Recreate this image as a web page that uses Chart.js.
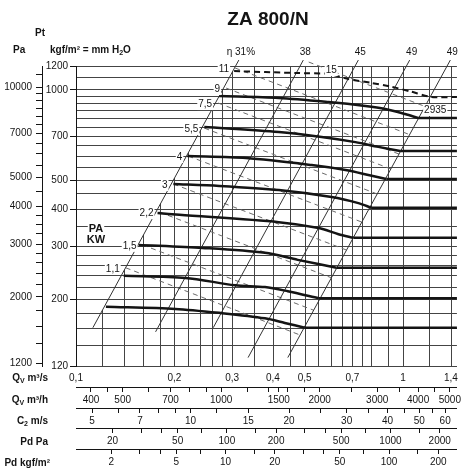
<!DOCTYPE html>
<html>
<head>
<meta charset="utf-8">
<script src="https://cdn.jsdelivr.net/npm/chart.js@4.4.1/dist/chart.umd.min.js"></script>
<style>
  html, body { margin: 0; padding: 0; background: #fff; }
</style>
</head>
<body>
<canvas id="fan" width="464" height="469"></canvas>
<script>
// grid + tick values
const qGrid = [0.1, 0.12, 0.14, 0.16, 0.18, 0.2, 0.22, 0.24, 0.26, 0.28, 0.3, 0.35, 0.4, 0.45, 0.5, 0.55, 0.6, 0.65, 0.7, 0.75, 0.8, 0.9, 1, 1.2, 1.4]
const qLabels = [0.1, 0.2, 0.3, 0.4, 0.5, 0.7, 1, 1.4]
const ptGrid = [120, 140, 160, 180, 200, 220, 240, 260, 280, 300, 350, 400, 450, 500, 550, 600, 650, 700, 750, 800, 850, 900, 950, 1000, 1100, 1200]
const ptLabels = [120, 200, 300, 400, 500, 700, 1000, 1200]
const paLabels = [1200, 2000, 3000, 4000, 5000, 7000, 10000]
const paMinor = [1400, 1600, 1800, 2200, 2400, 2600, 2800, 3250, 3500, 3750, 4500, 5500, 6000, 6500, 7500, 8000, 8500, 9000, 9500, 11000]
const m3hLabels = [400, 500, 700, 1000, 1500, 2000, 3000, 4000, 5000]
const m3hMinor = [450, 600, 800, 900, 1200, 1400, 1600, 1800, 2500, 3500, 4500]
const c2Labels = [5, 7, 10, 15, 20, 30, 40, 50, 60]
const c2Minor = [6, 8, 9, 12, 25, 35, 45, 55]
const pdLabels = [20, 50, 100, 200, 500, 1000, 2000]
const pdMinor = [30, 40, 70, 150, 300, 400, 700, 1500]
const pdkLabels = [2, 5, 10, 20, 50, 100, 200]
const pdkMinor = [3, 4, 7, 15, 30, 40, 70, 150]

// efficiency parabolas (bottom and top ends)
const effLabels = ['η 31%', '38', '45', '49', '49']
const effLowQ = [0.1126, 0.1751, 0.2627, 0.3357, 0.444]
const effLowP = [161, 156, 161, 128, 128]
const effTopQ = [0.3146, 0.4953, 0.7295, 1.047, 1.394]
const effTopP = [1256, 1256, 1256, 1256, 1256]

// motor power lines (kW), dashed
const kwLabels = ['15', '11', '9', '7,5', '5,5', '4', '3', '2,2', '1,5', '1,1']
const kwStartQ = [0.5143, 0.3064, 0.2877, 0.272, 0.2467, 0.2205, 0.1986, 0.18, 0.1598, 0.1419]
const kwStartP = [1237, 1182, 1013, 903, 745, 601, 485, 391, 304, 255]
const kwEndQ = [1.1687, 1.0488, 0.973, 0.9189, 0.8344, 0.7484, 0.6724, 0.6045, 0.5334, 0.4857]
const kwEndP = [879, 708, 610, 544, 449, 362, 292, 236, 184, 152]

// fan curves [Q m3/s, Pt kgf/m2]
const curveMax = [[0.3043, 1154], [0.4729, 1137], [0.5916, 1129], [0.6804, 1085], [0.7993, 1054], [0.9195, 1024], [1.0576, 986], [1.2163, 946]]
const curve1 = [[0.274, 953], [0.4169, 939], [0.5916, 910], [0.7663, 883], [0.8815, 863], [1.014, 830], [1.111, 805]]
const curve2 = [[0.2467, 751], [0.4169, 723], [0.5634, 696], [0.7147, 669], [0.8395, 645], [0.979, 625]]
const curve3 = [[0.219, 601], [0.3311, 592], [0.5253, 561], [0.6664, 540], [0.7829, 520], [0.8877, 504]]
const curve4 = [[0.1985, 485], [0.274, 478], [0.4169, 463], [0.6041, 439], [0.7299, 419], [0.7993, 404]]
const curve5 = [[0.1775, 388], [0.2071, 383], [0.4169, 362], [0.5516, 346], [0.6345, 330], [0.7047, 321]]
const curve6 = [[0.1554, 304], [0.2432, 297], [0.378, 286], [0.4762, 271], [0.6256, 255]]
const curve7 = [[0.1399, 240], [0.216, 236], [0.3064, 223], [0.378, 220], [0.444, 213], [0.5516, 202]]
const curve8 = [[0.1234, 189], [0.2014, 186], [0.2797, 180], [0.378, 173], [0.4348, 167], [0.5002, 161]]
const rpmLabel = '2935'

const Q_MIN = 0.1, Q_MAX = 1.46
const AREA = 0.0224, RHO = 1.2, G = 9.81

const INK = '#141414'
const GRID = '#444'
const FONT = '"Liberation Sans", Arial, sans-serif'
Chart.defaults.font.family = FONT
Chart.defaults.color = INK

const fmt = v => String(v).replace('.', ',')
const pts = arr => arr.map(([x, y]) => ({ x, y }))

function line(data, style) {
  return { data, pointRadius: 0, fill: false, clip: false, xAxisID: 'x', yAxisID: 'y', ...style }
}

const curves = [curve1, curve2, curve3, curve4, curve5, curve6, curve7, curve8]
const datasets = []
curves.forEach(c => {
  const last = c[c.length - 1]
  datasets.push(line(pts(c), { borderColor: INK, borderWidth: 2.5, tension: 0.3 }))
  datasets.push(line([{ x: last[0], y: last[1] }, { x: Q_MAX, y: last[1] }], { borderColor: INK, borderWidth: 2.5 }))
})
const maxLast = curveMax[curveMax.length - 1]
datasets.push(line(pts([...curveMax, [Q_MAX, maxLast[1]]]), { borderColor: INK, borderWidth: 2, borderDash: [6, 4], tension: 0.2 }))
effLabels.forEach((_, i) => {
  datasets.push(line([{ x: effLowQ[i], y: effLowP[i] }, { x: effTopQ[i], y: effTopP[i] }], { borderColor: '#333', borderWidth: 1 }))
})
kwLabels.forEach((_, i) => {
  datasets.push(line([{ x: kwStartQ[i], y: kwStartP[i] }, { x: kwEndQ[i], y: kwEndP[i] }], { borderColor: '#6a6a6a', borderWidth: 1, borderDash: [5, 4] }))
})

function bottomAxis(weight, conv, major, minor, height) {
  const all = [...major, ...minor].sort((a, b) => a - b)
  return {
    type: 'logarithmic', position: 'bottom', weight,
    min: conv(Q_MIN), max: conv(Q_MAX),
    afterBuildTicks: s => { s.ticks = all.map(v => ({ value: v })) },
    afterFit: s => { s.height = height },
    border: { display: true, color: INK, width: 1 },
    grid: { drawOnChartArea: false, tickLength: 5, tickColor: INK, tickWidth: 1 },
    ticks: { autoSkip: false, maxRotation: 0, padding: 2, color: INK, font: { size: 10 }, callback: v => major.includes(v) ? fmt(v) : '' },
  }
}

function drawRich(ctx, parts, x, y, align) {
  const big = 'bold 10px ' + FONT, small = 'bold 7px ' + FONT
  let w = 0
  parts.forEach(p => { ctx.font = p.sub ? small : big; w += ctx.measureText(p.t).width })
  let cx = align === 'right' ? x - w : x
  ctx.textAlign = 'left'
  ctx.textBaseline = 'middle'
  parts.forEach(p => {
    ctx.font = p.sub ? small : big
    ctx.fillText(p.t, cx, p.sub ? y + 3 : y)
    cx += ctx.measureText(p.t).width
  })
}

function boxText(ctx, text, x, y, align, font) {
  ctx.font = font
  const w = ctx.measureText(text).width
  const left = align === 'right' ? x - w : align === 'center' ? x - w / 2 : x
  ctx.fillStyle = '#fff'
  ctx.fillRect(left - 1, y - 6, w + 2, 12)
  ctx.fillStyle = INK
  ctx.textAlign = align
  ctx.textBaseline = 'middle'
  ctx.fillText(text, x, y)
}

const decor = {
  id: 'decor',
  beforeDatasetsDraw(chart) {
    // vertical grid only below the 31% line
    const { ctx, chartArea: a, scales: { x, y } } = chart
    const x0 = x.getPixelForValue(effLowQ[0]), y0 = y.getPixelForValue(effLowP[0])
    const x1 = x.getPixelForValue(effTopQ[0]), y1 = y.getPixelForValue(effTopP[0])
    ctx.save()
    ctx.strokeStyle = GRID
    ctx.lineWidth = 1
    ctx.beginPath()
    qGrid.slice(1).forEach(q => {
      const px = Math.round(x.getPixelForValue(q)) + 0.5
      const top = Math.max(a.top, y0 + (px - x0) * (y1 - y0) / (x1 - x0))
      ctx.moveTo(px, a.bottom)
      ctx.lineTo(px, top)
    })
    ctx.stroke()
    ctx.restore()
  },
  afterDatasetsDraw(chart) {
    const { ctx, chartArea: a, scales: { x, y } } = chart
    ctx.save()
    const f = '10px ' + FONT
    kwLabels.forEach((t, i) => {
      const px = x.getPixelForValue(kwStartQ[i]), py = y.getPixelForValue(kwStartP[i])
      if (t === '15') boxText(ctx, t, px + 17, py + 8, 'left', f)
      else boxText(ctx, t, px - 6, py + 1, 'right', f)
    })
    const c1 = curve1[curve1.length - 1]
    boxText(ctx, rpmLabel, x.getPixelForValue(c1[0]) + 6, y.getPixelForValue(c1[1]) - 8, 'left', f)
    effLabels.forEach((t, i) => {
      ctx.font = f
      ctx.fillStyle = INK
      ctx.textAlign = 'center'
      ctx.textBaseline = 'middle'
      ctx.fillText(t, x.getPixelForValue(effTopQ[i]) + 2, a.top - 14)
    })
    const pa = y.getPixelForValue(350)
    boxText(ctx, 'PA', a.left + 20, pa + 2, 'center', 'bold 11px ' + FONT)
    boxText(ctx, 'KW', a.left + 20, pa + 13, 'center', 'bold 11px ' + FONT)
    ctx.restore()
  },
  afterDraw(chart) {
    const { ctx, scales } = chart
    ctx.save()
    ctx.fillStyle = INK
    ctx.font = 'bold 19px ' + FONT
    ctx.textAlign = 'center'
    ctx.textBaseline = 'middle'
    ctx.fillText('ZA 800/N', 268, 20)
    drawRich(ctx, [{ t: 'Pt' }], 35, 33, 'left')
    drawRich(ctx, [{ t: 'Pa' }], 13, 50, 'left')
    drawRich(ctx, [{ t: 'kgf/m² = mm H' }, { t: '2', sub: true }, { t: 'O' }], 50, 50, 'left')
    drawRich(ctx, [{ t: 'Q' }, { t: 'V', sub: true }, { t: ' m³/s' }], 48, scales.x.top + 12, 'right')
    drawRich(ctx, [{ t: 'Q' }, { t: 'V', sub: true }, { t: ' m³/h' }], 48, scales.xh.top + 13, 'right')
    drawRich(ctx, [{ t: 'C' }, { t: '2', sub: true }, { t: ' m/s' }], 48, scales.xc.top + 13, 'right')
    drawRich(ctx, [{ t: 'Pd Pa' }], 48, scales.xp.top + 14, 'right')
    drawRich(ctx, [{ t: 'Pd kgf/m²' }], 50, scales.xk.top + 14, 'right')
    ctx.restore()
  },
}

new Chart(document.getElementById('fan'), {
  type: 'line',
  data: { datasets },
  options: {
    responsive: false,
    animation: false,
    events: [],
    layout: { padding: { top: 66, right: 6, left: 0, bottom: 0 } },
    plugins: { legend: { display: false }, tooltip: { enabled: false } },
    scales: {
      x: {
        type: 'logarithmic', position: 'bottom', weight: 0, min: Q_MIN, max: Q_MAX,
        afterBuildTicks: s => { s.ticks = qGrid.map(v => ({ value: v })) },
        afterFit: s => { s.height = 21 },
        border: { display: true, color: GRID },
        grid: { drawOnChartArea: false, drawTicks: false },
        ticks: { autoSkip: false, maxRotation: 0, padding: 6, color: INK, font: { size: 10 }, callback: v => qLabels.includes(v) ? fmt(v) : '' },
      },
      xh: bottomAxis(1, q => q * 3600, m3hLabels, m3hMinor, 21),
      xc: bottomAxis(2, q => q / AREA, c2Labels, c2Minor, 20),
      xp: bottomAxis(3, q => 0.5 * RHO * (q / AREA) ** 2, pdLabels, pdMinor, 21),
      xk: bottomAxis(4, q => 0.5 * RHO * (q / AREA) ** 2 / G, pdkLabels, pdkMinor, 20),
      y: {
        type: 'logarithmic', position: 'left', weight: 0, min: 120, max: 1200,
        afterBuildTicks: s => { s.ticks = ptGrid.map(v => ({ value: v })) },
        afterFit: s => { s.width = 34 },
        border: { display: true, color: INK },
        grid: { color: GRID, lineWidth: 1, tickLength: 6, tickColor: c => ptLabels.includes(c.tick && c.tick.value) ? INK : 'rgba(0,0,0,0)' },
        ticks: { autoSkip: false, padding: 2, color: INK, font: { size: 10 }, callback: v => ptLabels.includes(v) ? v : '' },
      },
      y2: {
        type: 'logarithmic', position: 'left', weight: 1, min: 120 * G, max: 1200 * G,
        afterBuildTicks: s => { s.ticks = [...paLabels, ...paMinor].sort((a, b) => a - b).map(v => ({ value: v })) },
        afterFit: s => { s.width = 42 },
        border: { display: true, color: INK },
        grid: { drawOnChartArea: false, tickLength: 6, tickColor: INK },
        ticks: { autoSkip: false, padding: 4, color: INK, font: { size: 10 }, callback: v => paLabels.includes(v) ? v : '' },
      },
    },
  },
  plugins: [decor],
})
</script>
</body>
</html>
